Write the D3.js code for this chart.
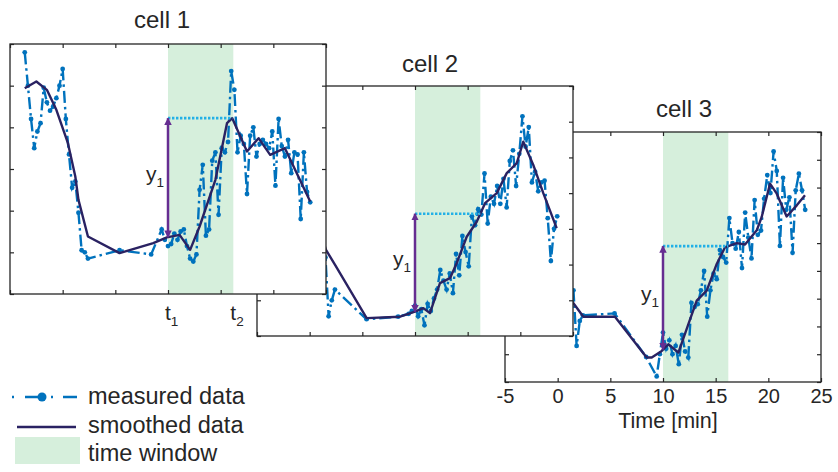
<!DOCTYPE html>
<html>
<head>
<meta charset="utf-8">
<script src="https://cdn.jsdelivr.net/npm/d3@7"></script>
<style>
  body { margin: 0; background: #fff; }
  text { font-family: "Liberation Sans", Arial, Helvetica, sans-serif; fill: #262626; }
</style>
</head>
<body>
<svg width="838" height="472"></svg>
<script>
  // sample times of the measured traces [min]
  const measuredTimes = [
    -3.6, -3.3, -3.0, -2.7, -2.4, -2.1, -1.8, -1.5, -1.2, -0.9, -0.6, -0.3, 0.0, 0.3, 0.6, 0.9, 1.2, 1.5, 1.8, 2.1, 2.4,
    5.4, 8.4,
    9.4, 9.7, 10.0, 10.3, 10.6, 10.9, 11.2, 11.5, 11.8, 12.1, 12.4, 12.7, 13.0, 13.3, 13.6, 13.9, 14.2, 14.5, 14.8, 15.1,
    15.4, 15.7, 16.0, 16.3, 16.6, 16.9, 17.2, 17.5, 17.8, 18.1, 18.4, 18.7, 19.0, 19.3, 19.6, 19.9, 20.2, 20.5, 20.8,
    21.1, 21.4, 21.7, 22.0, 22.3, 22.6, 22.9, 23.2, 23.5
  ];

  const cell1Measured = [
    5.8, 5.0, 4.2, 3.5, 3.9, 4.1, 4.95, 4.6, 4.4, 4.5, 4.7, 5.0, 5.4, 4.2, 3.35, 2.55, 2.7, 1.95, 1.05, 1.0, 0.85,
    1.05, 0.95,
    1.55, 1.3, 1.15, 1.2, 1.45, 1.3, 1.5, 1.55, 1.15, 0.85, 0.78, 0.95, 2.5, 3.1, 1.4, 1.55, 3.2, 3.4, 1.9, 3.5,
    3.4, 3.65, 5.35, 4.9, 3.4, 3.8, 3.6, 2.4, 3.8, 4.0, 3.3, 3.6, 3.7, 3.6, 3.5, 3.9, 2.6, 4.2, 3.55,
    3.3, 3.7, 2.9, 3.4, 3.35, 1.8, 3.4, 2.45, 2.2
  ];
  const cell2Measured = [
    5.2, 5.6, 4.9, 5.4, 5.0, 5.5, 4.8, 5.1, 4.6, 4.9, 4.2, 4.5, 3.8, 3.9, 3.3, 3.0, 2.6, 2.2, 0.55, 1.0, 1.3,
    0.47, 0.54,
    0.62, 0.7, 0.85, 0.55, 0.75, 0.3, 0.9, 0.7, 1.05, 1.3, 1.85, 1.55, 1.3, 1.75, 1.2, 2.3, 1.7, 2.8, 2.35, 1.95,
    3.35, 3.1, 3.55, 3.4, 4.55, 3.15, 3.9, 3.7, 4.2, 3.7, 4.4, 3.6, 4.9, 5.2, 4.2, 5.1, 6.15, 5.3, 5.85,
    4.3, 4.6, 4.05, 4.3, 4.35, 3.3, 2.1, 3.0, 3.35
  ];
  const cell3Measured = [
    4.6, 4.1, 4.8, 4.3, 5.0, 4.4, 4.7, 4.0, 4.5, 3.8, 4.2, 3.6, 4.0, 3.4, 3.7, 3.1, 3.5, 3.3, 1.3, 2.2, 2.4,
    2.47, 0.9,
    0.2, 1.0, 1.78, 1.2, 1.5, 1.0, 1.3, 0.64, 1.7, 1.1, 0.88, 2.85, 2.7, 2.8, 3.3, 4.0, 2.35, 3.3, 3.9, 3.7,
    4.75, 4.5, 4.3, 5.9, 5.0, 4.8, 5.4, 4.1, 6.1, 5.2, 4.45, 6.55, 5.3, 5.45, 6.6, 7.45, 6.8, 8.3, 7.6,
    4.9, 7.35, 6.2, 6.65, 4.65, 6.9, 7.5, 6.9, 6.2
  ];

  // smoothed traces
  const cell1SmoothTimes = [-3.6, -2.5, -1.5, -0.6, 0.5, 1.2, 1.5, 2.4, 5.4, 8.6, 9.9, 11.1, 12.1, 13.0, 14.5, 15.6, 16.1, 17.5, 18.6, 19.7, 21.1, 23.5];
  const cell1Smoothed    = [4.94, 5.1, 4.9, 4.42, 3.62, 2.82, 2.26, 1.38, 0.98, 1.22, 1.36, 1.42, 1.06, 1.62, 2.74, 4.1, 4.22, 3.42, 3.74, 3.34, 3.5, 2.22];
  const cell2SmoothTimes = [-3.6, -2.0, -0.5, 0.5, 1.55, 2.44, 5.41, 8.58, 10.0, 10.79, 11.42, 12.37, 13.32, 13.96, 14.91, 15.86, 16.65, 17.76, 18.71, 19.66, 20.28, 21.23, 22.18, 23.45];
  const cell2Smoothed    = [5.3, 5.1, 4.4, 3.4, 2.41, 1.98, 0.5, 0.54, 0.68, 0.78, 0.64, 1.48, 1.62, 2.04, 2.78, 3.2, 3.72, 4.0, 4.56, 4.84, 5.44, 4.79, 4.0, 3.02];
  const cell3SmoothTimes = [-3.6, -2.0, -0.5, 0.5, 1.43, 2.44, 5.44, 8.45, 8.93, 9.88, 10.51, 11.46, 12.41, 13.2, 14.15, 15.1, 15.89, 17.0, 17.79, 18.9, 19.37, 20.16, 20.8, 21.74, 22.7, 23.48];
  const cell3Smoothed    = [4.5, 4.4, 4.0, 3.5, 2.87, 2.35, 2.35, 0.88, 0.88, 1.12, 1.36, 1.06, 2.08, 2.93, 3.29, 4.25, 4.85, 5.0, 4.95, 5.46, 5.94, 7.14, 6.78, 5.96, 6.36, 6.72];

  const cellTitles = ['cell 1', 'cell 2', 'cell 3'];
  const yTop = [6, 7, 9];            // one y tick per unit
  const timeTicks = [-5, 0, 5, 10, 15, 20, 25];
  const timeWindow = [10, 16.2];
  const legendLabels = ['measured data', 'smoothed data', 'time window'];

  const cells = [
    { measured: cell1Measured, smoothT: cell1SmoothTimes, smooth: cell1Smoothed },
    { measured: cell2Measured, smoothT: cell2SmoothTimes, smooth: cell2Smoothed },
    { measured: cell3Measured, smoothT: cell3SmoothTimes, smooth: cell3Smoothed }
  ];

  const colors = {
    measured: '#0072bd',
    smooth: '#2a2262',
    window: '#d6efdc',
    level: '#22b0e6',
    arrow: '#662d91',
    axis: '#262626'
  };

  const W = 316, H = 250;
  const layout = [
    { x: 10,  y: 44,  titleX: 162, titleY: 28 },
    { x: 257, y: 86,  titleX: 430, titleY: 72 },
    { x: 505, y: 132, titleX: 684, titleY: 117 }
  ];

  const svg = d3.select('svg');

  const defs = svg.append('defs');
  defs.append('marker')
      .attr('id', 'head')
      .attr('viewBox', '0 0 10 10')
      .attr('refX', 9).attr('refY', 5)
      .attr('markerWidth', 3).attr('markerHeight', 3.2)
      .attr('orient', 'auto-start-reverse')
    .append('path')
      .attr('d', 'M0,0L10,5L0,10Z')
      .attr('fill', colors.arrow);

  const sub = (sel, main, idx, size, subSize) => {
    sel.attr('font-size', size).text(main)
      .append('tspan')
        .attr('font-size', subSize)
        .attr('dy', size * 0.3)
        .text(idx);
  };

  const styleAxis = sel => {
    sel.select('.domain').remove();
    sel.selectAll('.tick line').attr('stroke', colors.axis).attr('stroke-width', 1.2);
    sel.attr('font-size', 20).attr('font-family', null);
    sel.selectAll('.tick text').attr('fill', colors.axis);
  };

  const drawPanel = i => {
    const p = layout[i];
    const c = cells[i];
    const x = d3.scaleLinear().domain([-5, 25]).range([0, W]);
    const y = d3.scaleLinear().domain([0, yTop[i]]).range([H, 0]);

    const g = svg.append('g').attr('transform', `translate(${p.x},${p.y})`);

    g.append('rect').attr('width', W).attr('height', H).attr('fill', '#fff');
    g.append('rect')
      .attr('x', x(timeWindow[0]))
      .attr('width', x(timeWindow[1]) - x(timeWindow[0]))
      .attr('height', H)
      .attr('fill', colors.window);

    const pts = measuredTimes.map((t, k) => [t, c.measured[k]]);
    const line = d3.line().x(d => x(d[0])).y(d => y(d[1]));

    g.append('path')
      .datum(pts)
      .attr('d', line)
      .attr('fill', 'none')
      .attr('stroke', colors.measured)
      .attr('stroke-width', 2.4)
      .attr('stroke-dasharray', '12,4,2.5,4');
    g.selectAll('circle.m').data(pts).join('circle')
      .attr('class', 'm')
      .attr('cx', d => x(d[0]))
      .attr('cy', d => y(d[1]))
      .attr('r', 2.4)
      .attr('fill', colors.measured);

    const sm = c.smoothT.map((t, k) => [t, c.smooth[k]]);
    g.append('path')
      .datum(sm)
      .attr('d', line)
      .attr('fill', 'none')
      .attr('stroke', colors.smooth)
      .attr('stroke-width', 2.4)
      .attr('stroke-linejoin', 'round');

    // value at t1 and max inside the window
    const interp = t => {
      const j = d3.bisectLeft(c.smoothT, t);
      const t0 = c.smoothT[j - 1], t1 = c.smoothT[j];
      return c.smooth[j - 1] + (c.smooth[j] - c.smooth[j - 1]) * (t - t0) / (t1 - t0);
    };
    const inWin = sm.filter(d => d[0] >= timeWindow[0] && d[0] <= timeWindow[1]);
    inWin.push([timeWindow[1], interp(timeWindow[1])]);
    const peak = inWin.reduce((a, b) => (b[1] > a[1] ? b : a));
    const base = interp(timeWindow[0]);

    g.append('line')
      .attr('x1', x(timeWindow[0])).attr('x2', x(peak[0]))
      .attr('y1', y(peak[1])).attr('y2', y(peak[1]))
      .attr('stroke', colors.level)
      .attr('stroke-width', 2.6)
      .attr('stroke-dasharray', '2.4,1.6');

    g.append('line')
      .attr('x1', x(timeWindow[0])).attr('x2', x(timeWindow[0]))
      .attr('y1', y(base)).attr('y2', y(peak[1]))
      .attr('stroke', colors.arrow)
      .attr('stroke-width', 2.5)
      .attr('marker-start', 'url(#head)')
      .attr('marker-end', 'url(#head)');

    g.append('text')
      .attr('x', x(timeWindow[0]) - 4)
      .attr('y', (y(base) + y(peak[1])) / 2 + 3)
      .attr('text-anchor', 'end')
      .call(sub, 'y', '1', 21, 13.5);

    // axes, ticks inward on all four sides
    const xb = d3.axisBottom(x).tickValues(timeTicks).tickSize(-4).tickPadding(7)
      .tickFormat(i === 2 ? d => String(d) : () => '');
    g.append('g').attr('transform', `translate(0,${H})`).call(xb).call(styleAxis);
    g.append('g').call(d3.axisTop(x).tickValues(timeTicks).tickSize(-4).tickFormat(() => '')).call(styleAxis);
    const yTicks = d3.range(0, yTop[i] + 1);
    g.append('g').call(d3.axisLeft(y).tickValues(yTicks).tickSize(-4).tickFormat(() => '')).call(styleAxis);
    g.append('g').attr('transform', `translate(${W},0)`)
      .call(d3.axisRight(y).tickValues(yTicks).tickSize(-4).tickFormat(() => '')).call(styleAxis);

    g.append('rect')
      .attr('width', W).attr('height', H)
      .attr('fill', 'none')
      .attr('stroke', colors.axis)
      .attr('stroke-width', 1.3);

    svg.append('text')
      .attr('x', p.titleX).attr('y', p.titleY)
      .attr('text-anchor', 'middle')
      .attr('font-size', 24)
      .text(cellTitles[i]);

    if (i === 0) {
      timeWindow.forEach((t, k) => {
        svg.append('text')
          .attr('x', p.x + x(t) - 3)
          .attr('y', p.y + H + 26)
          .call(sub, 't', String(k + 1), 21, 13.5);
      });
    }
    if (i === 2) {
      svg.append('text')
        .attr('x', 668).attr('y', 428)
        .attr('text-anchor', 'middle')
        .attr('font-size', 21.5)
        .text('Time [min]');
    }
  };

  // cell 3 at the back, cell 1 in front
  [2, 1, 0].forEach(drawPanel);

  // legend
  const legend = svg.append('g');
  legend.append('line')
    .attr('x1', 12).attr('x2', 77).attr('y1', 397).attr('y2', 397)
    .attr('stroke', colors.measured)
    .attr('stroke-width', 2.4)
    .attr('stroke-dasharray', '2,11,20,6,2,10,14');
  legend.append('circle')
    .attr('cx', 42).attr('cy', 397).attr('r', 4.5)
    .attr('fill', colors.measured);
  legend.append('line')
    .attr('x1', 17).attr('x2', 76).attr('y1', 427).attr('y2', 427)
    .attr('stroke', colors.smooth)
    .attr('stroke-width', 2.6);
  legend.append('rect')
    .attr('x', 15).attr('y', 437).attr('width', 65).attr('height', 27)
    .attr('fill', colors.window);
  legend.selectAll('text.lbl').data(legendLabels).join('text')
    .attr('class', 'lbl')
    .attr('x', 88)
    .attr('y', (d, k) => [404, 433, 461][k])
    .attr('font-size', 23.5)
    .text(d => d);
</script>
</body>
</html>
